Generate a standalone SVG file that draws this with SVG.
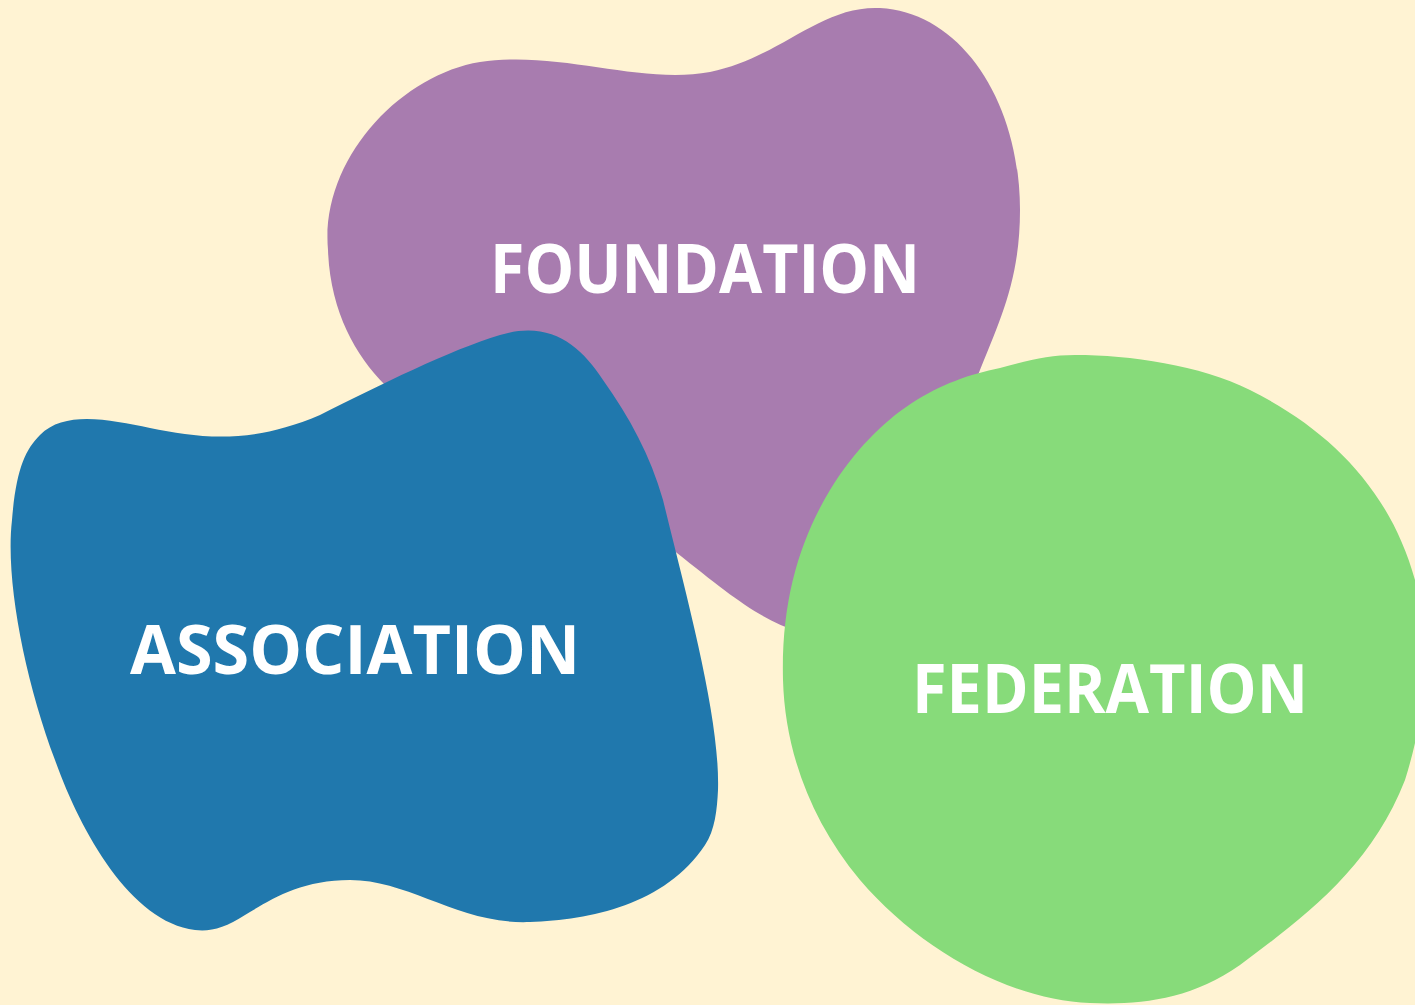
<svg xmlns="http://www.w3.org/2000/svg" width="1415" height="1005" viewBox="0 0 1415 1005">
<style>
.lbl{font-family:"Open Sans","Liberation Sans",sans-serif;font-weight:700;font-size:68px;fill:#ffffff}
</style>
<rect width="1415" height="1005" fill="#FFF3D3"/>
<g id="foundation">
<path fill="#A87CAF" d="M 328 250 C 320 160, 400 75, 480 62 C 560 50, 640 85, 710 72 C 780 58, 820 5, 880 8 C 960 12, 1020 100, 1020 210 C 1020 280, 1000 320, 978 375 C 940 470, 900 560, 800 632 C 760 620, 730 595, 677 553 C 600 490, 450 450, 385 385 C 355 355, 330 310, 328 250 Z"/>
<text class="lbl" x="490" y="293" textLength="430" lengthAdjust="spacingAndGlyphs">FOUNDATION</text>
</g>
<g id="association">
<path fill="#2078AD" d="M 40 435 C 65 410, 110 420, 150 428 C 200 438, 250 445, 320 415 C 380 385, 450 350, 500 335 C 550 320, 580 345, 603 380 C 630 418, 650 455, 663 500 C 690 610, 720 720, 718 790 C 717 810, 715 830, 705 845 C 665 905, 590 920, 530 922 C 460 925, 410 880, 350 880 C 300 880, 270 900, 245 915 C 225 928, 210 932, 195 930 C 130 922, 80 830, 55 760 C 25 680, 5 580, 12 520 C 16 470, 25 450, 40 435 Z"/>
<text class="lbl" x="130" y="674" textLength="450" lengthAdjust="spacingAndGlyphs">ASSOCIATION</text>
</g>
<g id="federation">
<path fill="#87DB7A" d="M 1075 355 C 1130 355, 1200 365, 1250 390 C 1330 430, 1390 490, 1415 580 C 1430 630, 1430 700, 1405 780 C 1370 870, 1300 920, 1240 965 C 1190 1000, 1140 1005, 1090 1003 C 1010 1000, 920 950, 860 880 C 810 820, 785 750, 783 680 C 781 600, 800 540, 830 490 C 880 410, 940 380, 1000 368 C 1030 360, 1050 355, 1075 355 Z"/>
<text class="lbl" x="912" y="713" textLength="396" lengthAdjust="spacingAndGlyphs">FEDERATION</text>
</g>
<g id="connectors"/>
</svg>
